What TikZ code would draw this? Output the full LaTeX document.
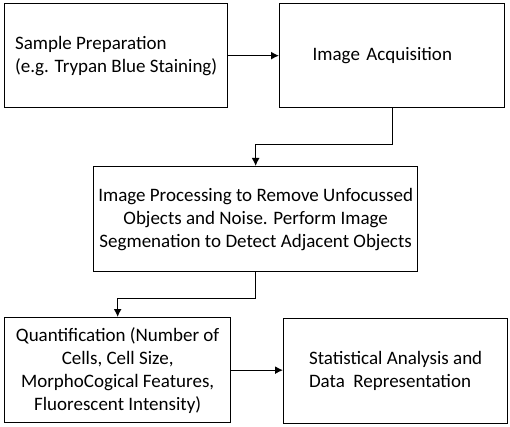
\documentclass[tikz,border=0pt]{standalone}
\usepackage{fontspec}
\setmainfont{Carlito}
\usetikzlibrary{arrows.meta}

\begin{document}
\begin{tikzpicture}[x=1pt,y=-1pt,>={Latex[length=8pt,width=8pt]},
        box/.style={draw,line width=1.3pt,anchor=north west,font=\fontsize{19}{23}\selectfont},
        link/.style={->,line width=1.3pt}]
            \useasboundingbox (0,0) rectangle (510,427);
            \node[box,minimum width=223pt,minimum height=104pt,align=left] (prep) at (4,3)
                {Sample Preparation\\(e.g. Trypan Blue Staining)};
            \node[box,minimum height=104pt,text width=159pt,inner xsep=33pt,align=left] (acq) at (279,3)
                {Image Acquisition};
            \node[box,minimum width=324pt,minimum height=105pt,align=center] (proc) at (93,166)
                {Image Processing to Remove Unfocussed\\Objects and Noise. Perform Image\\Segmenation to Detect Adjacent Objects};
            \node[box,minimum width=226pt,minimum height=105pt,align=center] (quant) at (4,317)
                {Quantification (Number of\\Cells, Cell Size,\\MorphoCogical Features,\\Fluorescent Intensity)};
            \node[box,minimum width=224pt,minimum height=105pt,align=left] (stat) at (283,318)
                {Statistical Analysis and\\Data~~Representation};
            \draw[link] (prep.east)--(prep.east-|acq.west);
            \draw[link] (acq.south)--++(0,36)-|(proc.north);
            \draw[link] (proc.south)--++(0,26)-|(quant.north);
            \draw[link] (quant.east)--(quant.east-|stat.west);
        \end{tikzpicture}
\end{document}
